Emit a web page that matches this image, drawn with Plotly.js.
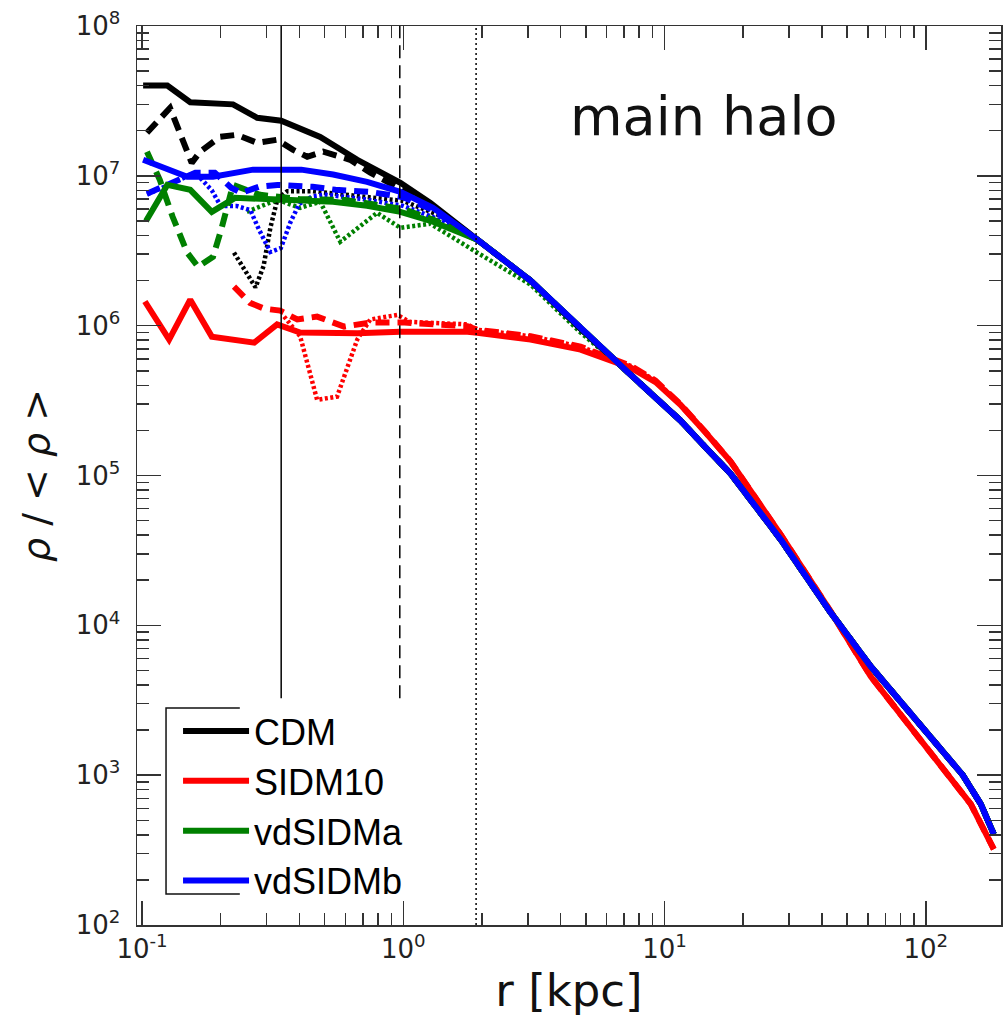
<!DOCTYPE html>
<html>
<head>
<meta charset="utf-8">
<script src="https://cdn.plot.ly/plotly-3.0.1.min.js"></script>
<style>
  html, body { margin: 0; padding: 0; background: #fff; }
  #plot { width: 1003px; height: 1021px; }
</style>
</head>
<body>
<div id="plot"></div>
<script>
// outer profile, all runs of CDM / vdSIDMa / vdSIDMb lie on top of each other there
var rOut = [1.92, 3.07, 4.77, 7.41, 9.24, 11.5, 14.3, 17.9, 27.8, 43.2, 61.5, 95.7, 138.6, 162.4, 182];
var rhoOut = [3.75e6, 2.0e6, 9.55e5, 4.71e5, 3.3e5, 2.33e5, 1.55e5, 1.03e5, 3.75e4, 1.22e4, 5.33e3, 2.12e3, 1.0e3, 641, 404];
// outer profile of SIDM10 (solid) and of its lower resolution runs (slightly higher)
var rOutS = [1.92, 3.07, 4.77, 7.41, 9.24, 11.5, 14.3, 17.9, 27.8, 43.2, 61.5, 95.7, 122.5, 148.7, 182];
var rhoOutS = [8.98e5, 8.07e5, 6.92e5, 5.25e5, 4.2e5, 2.97e5, 1.95e5, 1.24e5, 4.04e4, 1.24e4, 4.57e3, 1.74e3, 1.0e3, 641, 321];
var rhoOutSlow = [9.4e5, 8.5e5, 7.25e5, 5.4e5, 4.3e5, 2.99e5, 1.96e5, 1.24e5, 4.04e4, 1.24e4, 4.57e3, 1.74e3, 1.0e3, 641, 321];

// inner parts (solid = high res, dashed / dotted = lower res)
var cdmR = [0.101, 0.125, 0.153, 0.223, 0.276, 0.341, 0.481, 0.667, 0.975, 1.27];
var cdmRho = [4.0e7, 4.0e7, 3.1e7, 3.0e7, 2.44e7, 2.33e7, 1.82e7, 1.28e7, 8.98e6, 6.6e6];
var cdmDashR = [0.1045, 0.128, 0.155, 0.167, 0.199, 0.231, 0.276, 0.329, 0.379, 0.429, 0.494, 0.626, 0.748, 0.948, 1.27];
var cdmDashRho = [1.94e7, 2.84e7, 1.22e7, 1.45e7, 1.82e7, 1.88e7, 1.66e7, 1.74e7, 1.49e7, 1.34e7, 1.45e7, 1.28e7, 1.05e7, 8.45e6, 6.4e6];
var cdmDotR = [0.225, 0.25, 0.272, 0.292, 0.31, 0.33, 0.36, 0.45, 0.6, 1.0, 1.39];
var cdmDotRho = [3.07e6, 2.3e6, 1.8e6, 2.5e6, 4.5e6, 7.0e6, 7.9e6, 7.9e6, 7.5e6, 6.8e6, 5.4e6];

var sidmR = [0.1026, 0.127, 0.153, 0.185, 0.269, 0.329, 0.403, 0.667, 0.975, 1.3, 1.76];
var sidmRho = [1.45e6, 8.07e5, 1.49e6, 8.45e5, 7.7e5, 1.02e6, 9.0e5, 8.9e5, 9.1e5, 9.2e5, 9.1e5];
var sidmDashR = [0.225, 0.259, 0.293, 0.338, 0.393, 0.468, 0.594, 0.748, 1.01, 1.4, 1.76];
var sidmDashRho = [1.82e6, 1.42e6, 1.30e6, 1.26e6, 1.10e6, 1.15e6, 9.85e5, 1.05e6, 1.05e6, 1.02e6, 9.9e5];
var sidmDotR = [0.35, 0.403, 0.468, 0.558, 0.667, 0.748, 0.948, 1.06, 1.76];
var sidmDotRho = [1.15e6, 8.5e5, 3.2e5, 3.36e5, 8.1e5, 1.10e6, 1.18e6, 1.06e6, 1.02e6];

var vdaR = [0.1036, 0.125, 0.153, 0.185, 0.227, 0.329, 0.539, 0.727, 0.975, 1.3];
var vdaRho = [5.0e6, 8.7e6, 8.07e6, 5.75e6, 7.13e6, 6.92e6, 6.71e6, 6.31e6, 5.75e6, 4.94e6];
var vdaDashR = [0.1045, 0.117, 0.131, 0.149, 0.164, 0.187, 0.201, 0.223, 0.283, 0.4, 0.6, 1.0, 1.3];
var vdaDashRho = [1.45e7, 9.4e6, 5.33e6, 3.07e6, 2.47e6, 2.88e6, 4.37e6, 8.7e6, 7.47e6, 7.0e6, 6.9e6, 6.0e6, 5.1e6];
var vdaDotR = [0.252, 0.329, 0.403, 0.481, 0.574, 0.667, 0.794, 0.975, 1.27, 1.92, 3.07, 4.77];
var vdaDotRho = [5.75e6, 6.92e6, 6.12e6, 6.71e6, 3.63e6, 4.5e6, 5.66e6, 4.5e6, 4.79e6, 3.07e6, 1.88e6, 9.0e5];

var vdbR = [0.101, 0.125, 0.149, 0.187, 0.266, 0.407, 0.539, 0.727, 0.975, 1.3];
var vdbRho = [1.28e7, 1.10e7, 9.85e6, 9.85e6, 1.10e7, 1.10e7, 1.02e7, 9.12e6, 7.82e6, 6.12e6];
var vdbDashR = [0.1045, 0.128, 0.16, 0.19, 0.22, 0.24, 0.28, 0.33, 0.45, 0.55, 0.75, 1.0, 1.3];
var vdbDashRho = [7.6e6, 8.8e6, 1.05e7, 1.05e7, 8.3e6, 7.7e6, 8.45e6, 8.7e6, 8.45e6, 8.07e6, 7.8e6, 7.2e6, 5.9e6];
var vdbDotR = [0.1045, 0.13, 0.16, 0.185, 0.2, 0.23, 0.26, 0.28, 0.31, 0.34, 0.37, 0.40, 0.45, 0.5, 0.7, 1.0, 1.3];
var vdbDotRho = [7.5e6, 9.0e6, 1.05e7, 8.0e6, 6.3e6, 6.3e6, 5.9e6, 4.4e6, 3.1e6, 3.3e6, 4.9e6, 6.5e6, 7.3e6, 7.5e6, 7.0e6, 6.3e6, 5.3e6];

// resolution radii marked with thin vertical lines
var markR = [0.341, 0.97, 1.9];
var markBottom = [3260, 3260, 100];
var markDash = ['solid', '13px,7px', '2px,3px'];

var names = ['CDM', 'SIDM10', 'vdSIDMa', 'vdSIDMb'];
var colors = ['#000000', '#ff0000', '#008000', '#0000ff'];

function join(r, rho, ro, rhoo) {
  var x = r.slice(), y = rho.slice();
  var last = r[r.length - 1];
  for (var i = 0; i < ro.length; i++) {
    if (ro[i] > last) { x.push(ro[i]); y.push(rhoo[i]); }
  }
  return [x, y];
}

function curve(xy, color, dash, width, name) {
  return {
    x: xy[0], y: xy[1], type: 'scatter', mode: 'lines',
    name: name || '', showlegend: !!name, hoverinfo: 'skip',
    line: {color: color, dash: dash, width: width, shape: 'linear'}
  };
}

var DASH = '14px,8px', DOT = '3px,2.5px';

var data = [
  // dotted runs
  curve(join(cdmDotR, cdmDotRho, rOut, rhoOut), colors[0], DOT, 4.5),
  curve(join(sidmDotR, sidmDotRho, rOutS, rhoOutSlow), colors[1], DOT, 4.5),
  curve(join(vdaDotR, vdaDotRho, rOut, rhoOut), colors[2], DOT, 4.5),
  curve(join(vdbDotR, vdbDotRho, rOut, rhoOut), colors[3], DOT, 4.5),
  // dashed runs
  curve(join(cdmDashR, cdmDashRho, rOut, rhoOut), colors[0], DASH, 6),
  curve(join(sidmDashR, sidmDashRho, rOutS, rhoOutSlow), colors[1], DASH, 6),
  curve(join(vdaDashR, vdaDashRho, rOut, rhoOut), colors[2], DASH, 6),
  curve(join(vdbDashR, vdbDashRho, rOut, rhoOut), colors[3], DASH, 6),
  // solid runs
  curve(join(cdmR, cdmRho, rOut, rhoOut), colors[0], 'solid', 6, names[0]),
  curve(join(sidmR, sidmRho, rOutS, rhoOutS), colors[1], 'solid', 6, names[1]),
  curve(join(vdaR, vdaRho, rOut, rhoOut), colors[2], 'solid', 6, names[2]),
  curve(join(vdbR, vdbRho, rOut, rhoOut), colors[3], 'solid', 6, names[3])
];

for (var k = 0; k < markR.length; k++) {
  data.push({
    x: [markR[k], markR[k]], y: [markBottom[k], 1e8], type: 'scatter', mode: 'lines',
    showlegend: false, hoverinfo: 'skip',
    line: {color: '#000', width: 1.5, dash: markDash[k]}
  });
}

var minorVals = [];
for (var d = -2; d <= 8; d++) {
  for (var m = 2; m <= 9; m++) minorVals.push(m * Math.pow(10, d));
}

function axis(extra) {
  var a = {
    type: 'log', showline: true, linecolor: '#333', linewidth: 1.5, mirror: 'allticks',
    ticks: 'inside', ticklen: 24, tickwidth: 1.5, tickcolor: '#333',
    showgrid: false, zeroline: false,
    tickfont: {family: 'DejaVu Sans', size: 26, color: '#222'},
    minor: {ticks: 'inside', ticklen: 12, tickwidth: 1.5, tickcolor: '#333',
            tickmode: 'array', tickvals: minorVals, showgrid: false}
  };
  for (var key in extra) a[key] = extra[key];
  return a;
}

var layout = {
  width: 1003, height: 1021,
  margin: {l: 137, r: 2, t: 26, b: 96},
  paper_bgcolor: '#fff', plot_bgcolor: '#fff',
  showlegend: true,
  xaxis: axis({
    range: [Math.log10(0.0957), Math.log10(194)],
    tickmode: 'array', tickvals: [0.1, 1, 10, 100],
    ticktext: ['10<sup>-1</sup>', '10<sup>0</sup>', '10<sup>1</sup>', '10<sup>2</sup>'],
    title: {text: 'r [kpc]', font: {family: 'DejaVu Sans', size: 45, color: '#111'}, standoff: 4}
  }),
  yaxis: axis({
    range: [2, 8],
    tickmode: 'array', tickvals: [1e2, 1e3, 1e4, 1e5, 1e6, 1e7, 1e8],
    ticktext: ['10<sup>2</sup>', '10<sup>3</sup>', '10<sup>4</sup>', '10<sup>5</sup>',
               '10<sup>6</sup>', '10<sup>7</sup>', '10<sup>8</sup>'],
    ticklabelstandoff: 10,
    title: {text: '<i>ρ</i> / &lt; <i>ρ</i> &gt;', font: {family: 'DejaVu Sans', size: 38, color: '#111'}, standoff: 14}
  }),
  legend: {
    x: 0.0475, y: 0.249, xanchor: 'left', yanchor: 'top',
    bgcolor: 'rgba(0,0,0,0)', borderwidth: 0,
    font: {family: 'Liberation Sans', size: 36, color: '#000'},
    itemwidth: 66, tracegroupgap: 0
  },
  shapes: [{
    type: 'path', xref: 'paper', yref: 'paper',
    path: 'M 0.119 0.2414 L 0.0336 0.2414 L 0.0336 0.0345 L 0.119 0.0345',
    line: {color: '#111', width: 1.5}
  }],
  annotations: [{
    text: 'main halo', xref: 'paper', yref: 'paper', x: 0.656, y: 0.899,
    xanchor: 'center', yanchor: 'middle', showarrow: false,
    font: {family: 'DejaVu Sans', size: 54, color: '#111'}
  }]
};

Plotly.newPlot('plot', data, layout, {displayModeBar: false, staticPlot: true});
</script>
</body>
</html>
